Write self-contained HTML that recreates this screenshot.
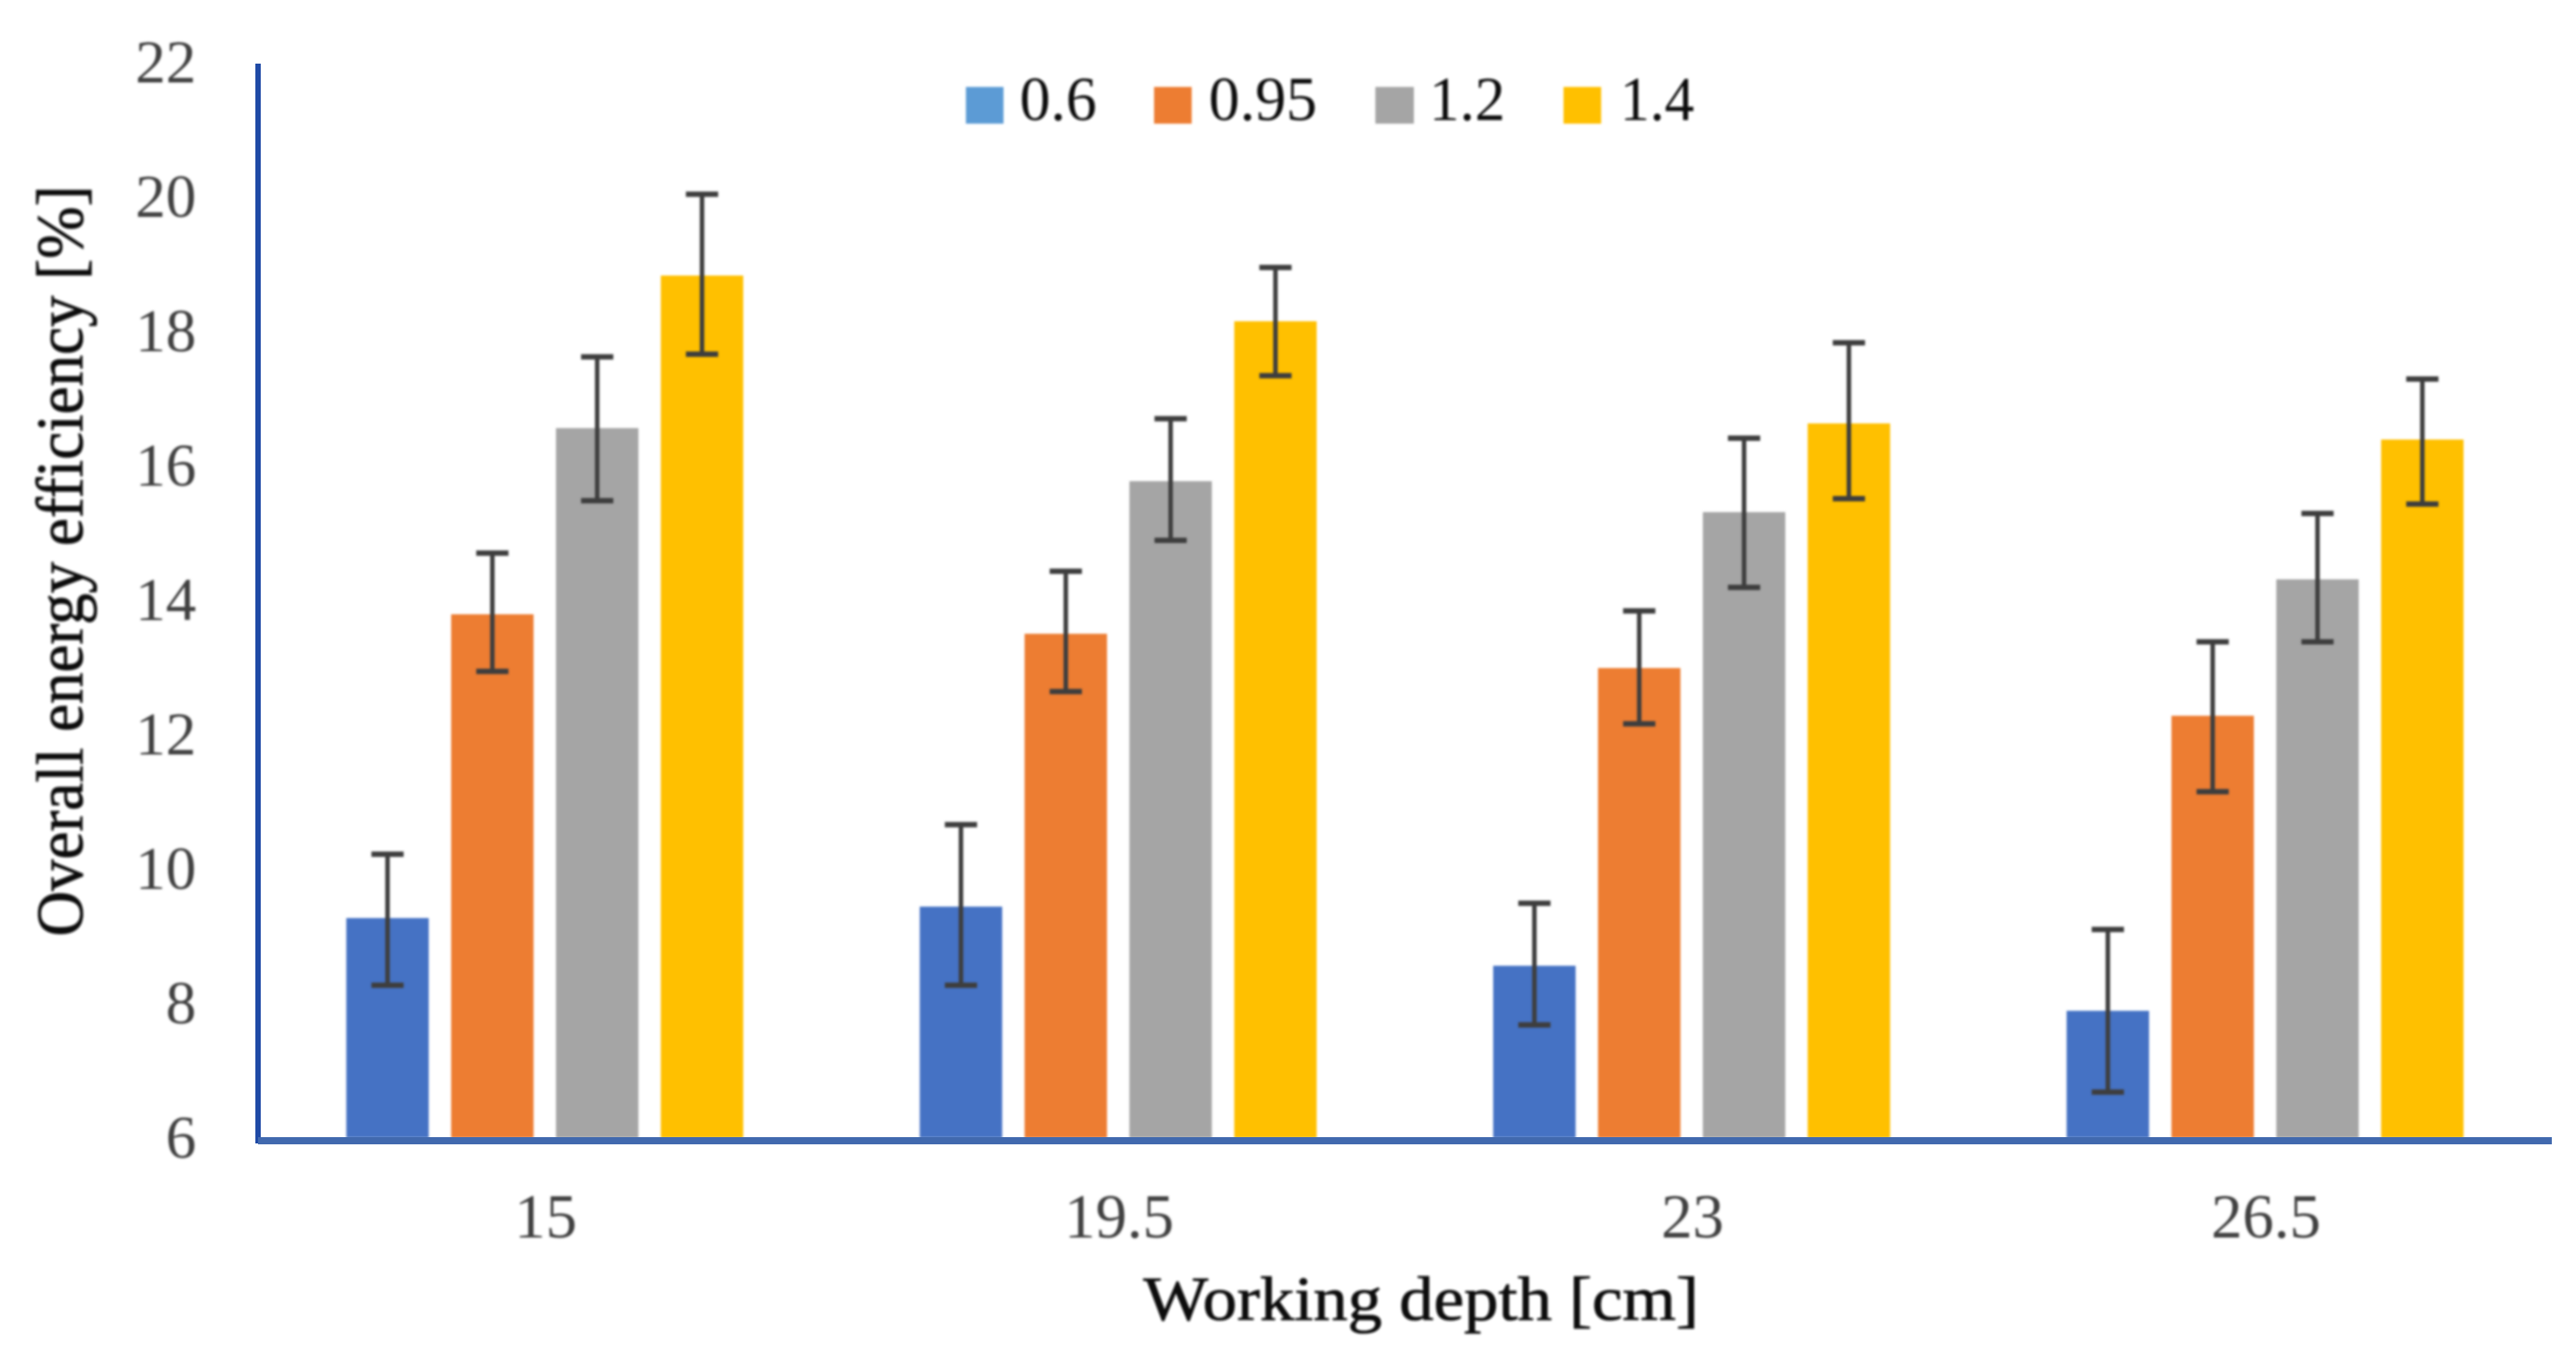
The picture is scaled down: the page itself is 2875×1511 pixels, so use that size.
<!DOCTYPE html>
<html lang="en">
<head>
<meta charset="utf-8">
<title>Overall energy efficiency vs working depth</title>
<style>
  html, body { margin: 0; padding: 0; background: #fff; }
  svg { display: block; }
  text { font-family: "Liberation Serif", "DejaVu Serif", serif; }
</style>
</head>
<body>
<svg id="chart" xmlns="http://www.w3.org/2000/svg" width="2875" height="1511" viewBox="0 0 2875 1511">
  <defs>
    <filter id="soft" x="-5%" y="-5%" width="110%" height="110%"><feGaussianBlur stdDeviation="1.2"/></filter>
  </defs>
  <rect x="0" y="0" width="2875" height="1511" fill="#ffffff"/>
  <g id="bars" filter="url(#soft)"></g>
  <rect x="285" y="71" width="6" height="1205" fill="#1f4aa6"/>
  <rect x="288" y="1269" width="2560" height="8" fill="#4169ae"/>
  <g id="errors" filter="url(#soft)"></g>
  <g id="yticks" filter="url(#soft)"></g>
  <g id="xticks" filter="url(#soft)"></g>
  <text transform="translate(92,1045) rotate(-90)" font-size="74" fill="#111111" stroke="#111111" stroke-width="0.8" textLength="838" lengthAdjust="spacingAndGlyphs" filter="url(#soft)">Overall energy efficiency [%]</text>
  <text x="1276" y="1473" font-size="70" fill="#111111" stroke="#111111" stroke-width="0.8" textLength="620" lengthAdjust="spacingAndGlyphs" filter="url(#soft)">Working depth [cm]</text>
  <g filter="url(#soft)">
    <g>
      <rect x="1078" y="97" width="42" height="41" fill="#5b9bd5"/>
      <text x="1138" y="134" font-size="70" fill="#111111" textLength="86" lengthAdjust="spacingAndGlyphs">0.6</text>
    </g>
    <g>
      <rect x="1288" y="97" width="42" height="41" fill="#ed7d31"/>
      <text x="1349" y="134" font-size="70" fill="#111111" textLength="121" lengthAdjust="spacingAndGlyphs">0.95</text>
    </g>
    <g>
      <rect x="1535" y="97" width="43" height="41" fill="#a5a5a5"/>
      <text x="1595" y="134" font-size="70" fill="#111111" textLength="85" lengthAdjust="spacingAndGlyphs">1.2</text>
    </g>
    <g>
      <rect x="1745" y="97" width="42" height="41" fill="#ffc000"/>
      <text x="1808" y="134" font-size="70" fill="#111111" textLength="83" lengthAdjust="spacingAndGlyphs">1.4</text>
    </g>
  </g>
</svg>
<script>
const categories = ['15', '19.5', '23', '26.5'];
const seriesNames = ['0.6', '0.95', '1.2', '1.4'];
const yTicks = [6, 8, 10, 12, 14, 16, 18, 20, 22];

const series06 = [9.30, 9.47, 8.59, 7.92];
const series095 = [13.82, 13.53, 13.02, 12.31];
const series12 = [16.59, 15.80, 15.34, 14.34];
const series14 = [18.86, 18.18, 16.66, 16.42];

const errHigh06 = [10.25, 10.69, 9.52, 9.13];
const errLow06 = [8.30, 8.30, 7.71, 6.71];
const errHigh095 = [14.73, 14.46, 13.87, 13.41];
const errLow095 = [12.97, 12.67, 12.19, 11.18];
const errHigh12 = [17.65, 16.73, 16.44, 15.32];
const errLow12 = [15.51, 14.92, 14.22, 13.41];
const errHigh14 = [20.07, 18.98, 17.86, 17.32];
const errLow14 = [17.69, 17.37, 15.54, 15.46];

const seriesValues = [series06, series095, series12, series14];
const seriesHigh = [errHigh06, errHigh095, errHigh12, errHigh14];
const seriesLow = [errLow06, errLow095, errLow12, errLow14];
const barColors = ['#4472c4', '#ed7d31', '#a5a5a5', '#ffc000'];

const NS = 'http://www.w3.org/2000/svg';
const yScale = v => 1272 - (v - 6) * 75;
const xBand = i => 288 + 640 * (i + 0.5);
const barWidth = 92;
const barStep = 117;
const barX = (c, s) => xBand(c) + (s - 1.5) * barStep - barWidth / 2;

function make(tag, attrs, parent) {
  const el = document.createElementNS(NS, tag);
  for (const k in attrs) el.setAttribute(k, attrs[k]);
  parent.appendChild(el);
  return el;
}

const barsLayer = document.getElementById('bars');
const errLayer = document.getElementById('errors');
const yLayer = document.getElementById('yticks');
const xLayer = document.getElementById('xticks');

seriesValues.forEach((vals, s) => {
  vals.forEach((v, c) => {
    const top = yScale(v);
    const bar = make('rect', { x: barX(c, s), y: top, width: barWidth, height: 1270 - top, fill: barColors[s] }, barsLayer);
    
    

    const cx = barX(c, s) + barWidth / 2;
    const hi = yScale(seriesHigh[s][c]);
    const lo = yScale(seriesLow[s][c]);
    const whisker = make('line', { x1: cx, x2: cx, y1: hi, y2: lo, stroke: '#3c3c3c', 'stroke-width': 5 }, errLayer);
    
    
    const capTop = make('line', { x1: cx - 18, x2: cx + 18, y1: hi, y2: hi, stroke: '#3c3c3c', 'stroke-width': 6 }, errLayer);
    
    
    const capBottom = make('line', { x1: cx - 18, x2: cx + 18, y1: lo, y2: lo, stroke: '#3c3c3c', 'stroke-width': 6 }, errLayer);
    
    
  });
});

yTicks.forEach(t => {
  const label = make('text', { x: 219, y: yScale(t) + 20, 'text-anchor': 'end', 'font-size': 68, fill: '#404040' }, yLayer);
  label.textContent = String(t);
  
  
});

categories.forEach((cat, c) => {
  const label = make('text', { x: xBand(c) + 1, y: 1381, 'text-anchor': 'middle', 'font-size': 70, fill: '#404040' }, xLayer);
  label.textContent = cat;
  
  
});
</script>
</body>
</html>
